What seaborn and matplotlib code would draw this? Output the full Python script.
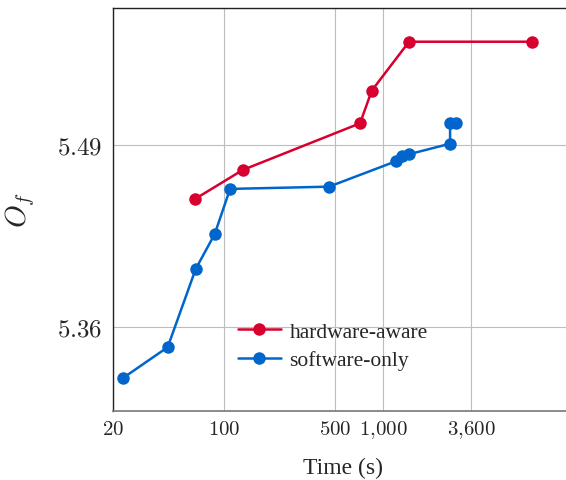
import matplotlib
matplotlib.use("Agg")
import matplotlib.pyplot as plt
import seaborn as sns
import pandas as pd

hw_time = [65.4, 130.8, 717, 850, 1460, 8736]
hw_of = [5.4513, 5.4720, 5.5052, 5.5285, 5.5633, 5.5633]
sw_time = [22.9, 44.0, 66.1, 87.1, 108.8, 457, 1208, 1312, 1460, 2647, 2647, 2886]
sw_of = [5.3237, 5.3458, 5.4015, 5.4264, 5.4585, 5.4601, 5.4782, 5.4822, 5.4832,
         5.4907, 5.5054, 5.5054]
x_ticks = [20, 100, 500, 1000, 3600]
x_tick_labels = ["20", "100", "500", "1,000", "3,600"]
y_ticks = [5.36, 5.49]
y_tick_labels = ["5.36", "5.49"]
series_names = ["hardware-aware", "software-only"]
colors = ["#D7002F", "#0066CC"]

df = pd.DataFrame({
    "time": hw_time + sw_time,
    "of": hw_of + sw_of,
    "method": [series_names[0]] * len(hw_time) + [series_names[1]] * len(sw_time),
})

sns.set_style("white")
plt.rcParams["font.family"] = ["Liberation Serif", "DejaVu Serif"]
plt.rcParams["mathtext.fontset"] = "cm"

fig = plt.figure(figsize=(5.66, 4.81), dpi=100)
ax = fig.add_axes([0.2002, 0.1435, 0.8, 0.8372])

sns.lineplot(data=df, x="time", y="of", hue="method", palette=colors,
             marker="o", markersize=9, markeredgewidth=0, linewidth=1.8,
             estimator=None, sort=False, ax=ax, zorder=3)

ax.set_xscale("log")
ax.set_xlim(20, 14250)
ax.set_ylim(5.3004, 5.5871)
ax.set_xticks(x_ticks)
ax.set_xticklabels(["$" + t.replace(",", "{,}") + "$" for t in x_tick_labels], fontsize=15)
ax.set_xticks([], minor=True)
ax.set_yticks(y_ticks)
ax.set_yticklabels(["$" + t + "$" for t in y_tick_labels], fontsize=18)
ax.grid(True, color="#bdbdbd", linewidth=0.8)
ax.tick_params(direction="in", length=4, color="#555555")
ax.tick_params(axis="x", pad=16.5)
ax.tick_params(axis="y", pad=8)
for lab in ax.get_xticklabels():
    lab.set_verticalalignment("baseline")

for s in ["left", "top"]:
    ax.spines[s].set_color("#222222")
    ax.spines[s].set_linewidth(1.0)
ax.spines["bottom"].set_color("#777777")
ax.spines["bottom"].set_linewidth(1.2)
ax.spines["right"].set_visible(False)

ax.set_xlabel("Time (s)", fontsize=17)
ax.xaxis.set_label_coords(0.508, -0.113)
ax.set_ylabel("$O_f$", fontsize=21, labelpad=14)

leg = ax.legend(loc="upper left", bbox_to_anchor=(0.256, 0.243), frameon=False,
                fontsize=15.5, handlelength=2.0, handletextpad=0.4,
                labelspacing=0.4, borderaxespad=0)

fig.savefig("out.png", dpi=100)
